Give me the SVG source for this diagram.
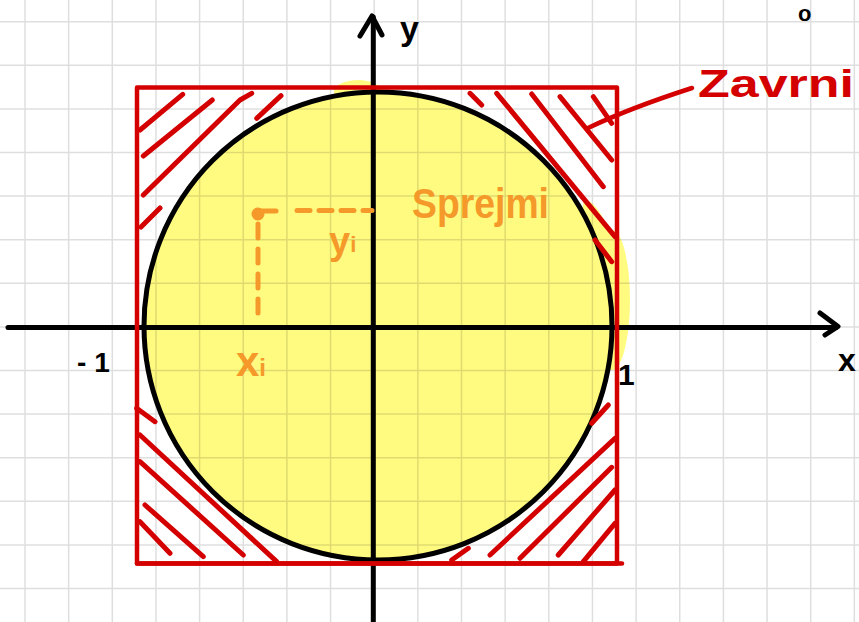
<svg xmlns="http://www.w3.org/2000/svg" width="859" height="622" viewBox="0 0 859 622">
<style>
.grid{stroke:#000;stroke-opacity:0.13;stroke-width:1.5;fill:none}
.axis{stroke:#000;stroke-width:5;fill:none;stroke-linecap:round;stroke-linejoin:round}
.red{stroke:#d40000;stroke-width:4.5;fill:none;stroke-linecap:round;stroke-linejoin:round}
.hatch{stroke:#d40000;stroke-width:5;fill:none;stroke-linecap:round;stroke-linejoin:round}
.or{stroke:#f4992a;stroke-width:5;fill:none;stroke-linecap:round}
.blk{font-family:"Liberation Sans",Arial,sans-serif;font-weight:bold;fill:#000}
.ortxt{font-family:"Liberation Sans",Arial,sans-serif;font-weight:bold;fill:#f4992a}
.redtxt{font-family:"Liberation Sans",Arial,sans-serif;font-weight:bold;fill:#d40000}
</style>
<rect width="859" height="622" fill="#fff"/>
<g id="fill">
<circle cx="378" cy="326" r="236" fill="#fffb80"/>
<ellipse cx="612" cy="300" rx="18" ry="70" fill="#fffb80"/>
<ellipse cx="358" cy="92" rx="24" ry="12" fill="#fffb80"/>
<ellipse cx="598" cy="228" rx="9" ry="30" fill="#fffb80" transform="rotate(-25 598 228)"/>
</g>
<g id="grid">
<path class="grid" d="M25 0V622M68.65 0V622M112.3 0V622M155.95 0V622M199.6 0V622M243.25 0V622M286.9 0V622M330.55 0V622M374.2 0V622M417.85 0V622M461.5 0V622M505.15 0V622M548.8 0V622M592.45 0V622M636.1 0V622M679.75 0V622M723.4 0V622M767.05 0V622M810.7 0V622M854.35 0V622M0 21.7H859M0 65.3H859M0 108.9H859M0 152.5H859M0 196.1H859M0 239.7H859M0 283.3H859M0 326.9H859M0 370.5H859M0 414.1H859M0 457.7H859M0 501.3H859M0 544.9H859M0 588.5H859"/>
</g>
<g id="axes">
<path class="axis" d="M8 327.5H836"/>
<path class="axis" d="M820 313L838 326.5L825 335"/>
<path class="axis" d="M373.3 622V17"/>
<path class="axis" d="M360 36L372 16L382 35"/>
</g>
<g id="circle">
<circle cx="378" cy="326" r="234" fill="none" stroke="#000" stroke-width="5"/>
</g>
<g id="point">
<circle cx="258" cy="214" r="6.5" fill="#f4992a"/>
<path class="or" d="M262 211H276"/>
<path class="or" d="M297 210.5H372" stroke-dasharray="13 9"/>
<path class="or" d="M258 224V320" stroke-dasharray="14 11"/>
</g>
<g id="hatching">
<path class="hatch" d="M182.7 94.3L140 130M212.3 100L143.3 156M251.7 93.3L240 100L143.3 195M281 95.7L256.7 118.3M160 208L141 227"/>
<path class="hatch" d="M470 93.3L481.7 105M496.7 93.3L615 236.7M531.7 94L603.3 186.7M560 96.7L611.7 160M593.3 96.7L611.7 123.3M595 240L611.7 261.7"/>
<path class="hatch" d="M608.3 405L591.7 423.3M615 438.3L490 555M611.7 467.3L520 558.3M615 490L558.3 555M615 523.3L583.3 561.7M468.3 548.3L451.7 560"/>
<path class="hatch" d="M136.7 408.3L155 421.7M140 435L276.7 561.7M140 461.7L243.3 555M145 505L203.3 556.7M140 521.7L170 553.3"/>
</g>
<g id="square">
<path class="red" d="M137 87.5H617V563.5H137Z"/>
<path class="red" d="M137 563.5H622"/>
</g>
<g id="connectors">
<path class="red" d="M588 128Q630 108 692 88"/>
</g>
<g id="labels">
<text class="blk" x="400" y="40" font-size="34">y</text>
<text class="blk" x="838" y="371" font-size="32">x</text>
<text class="blk" x="77" y="372" font-size="28" letter-spacing="8">-1</text>
<text class="blk" x="618" y="385" font-size="30">1</text>
<text class="blk" x="798" y="21" font-size="22">o</text>
<text class="ortxt" x="329" y="254" font-size="38">y<tspan font-size="22" dy="-2">i</tspan></text>
<text class="ortxt" x="236" y="376" font-size="42">x<tspan font-size="24">i</tspan></text>
<text class="ortxt" x="412" y="218" font-size="42" textLength="137" lengthAdjust="spacingAndGlyphs">Sprejmi</text>
<text class="redtxt" x="698" y="97" font-size="38" textLength="156" lengthAdjust="spacingAndGlyphs">Zavrni</text>
</g>
</svg>
